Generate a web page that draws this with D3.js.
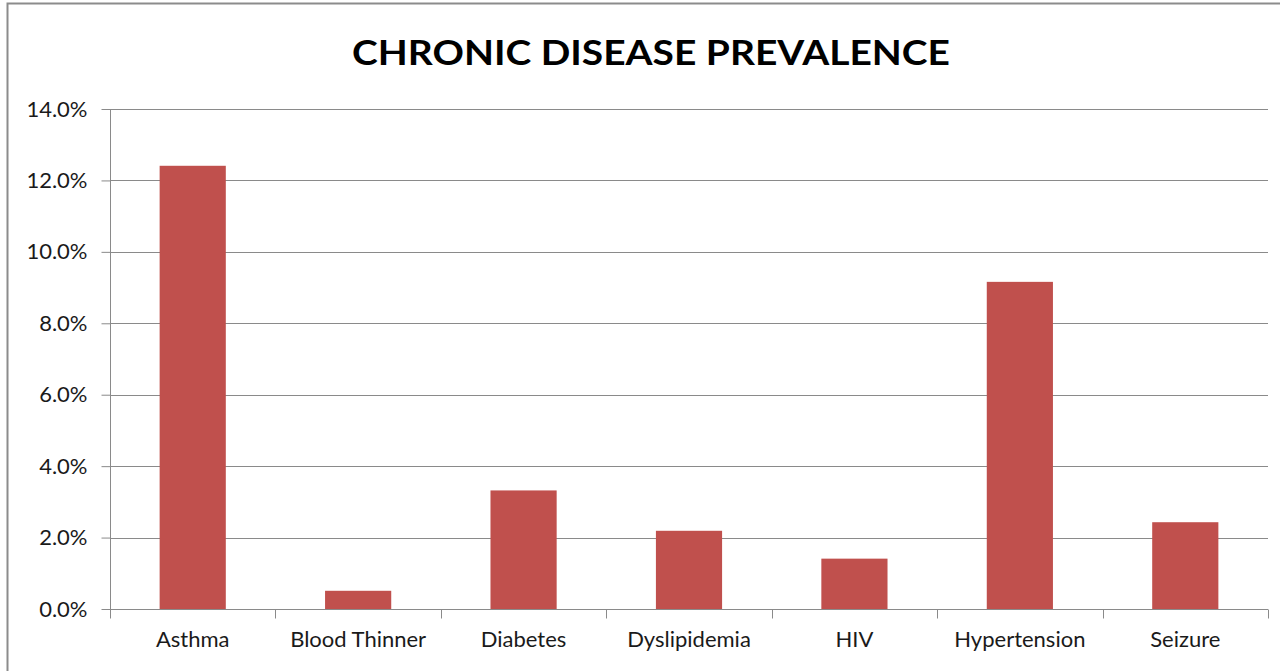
<!DOCTYPE html>
<html>
<head>
<meta charset="utf-8">
<script src="https://cdn.jsdelivr.net/npm/d3@7"></script>
<style>
  html, body { margin: 0; padding: 0; background: #fff; }
  svg { display: block; }
</style>
</head>
<body>
<svg id="chart" width="1280" height="671"></svg>
<script>
const categories = ["Asthma", "Blood Thinner", "Diabetes", "Dyslipidemia", "HIV", "Hypertension", "Seizure"];
const values = [0.1241, 0.0051, 0.0332, 0.0219, 0.0141, 0.0916, 0.0243];
const yTicks = [0, 0.02, 0.04, 0.06, 0.08, 0.10, 0.12, 0.14];
const title = "CHRONIC DISEASE PREVALENCE";

(function () {
const svg = d3.select("#chart");
const pLeft = 110, pRight = 1268, pTop = 109, pBottom = 609;
const font = "Lato, 'Open Sans', sans-serif";

// outer frame
svg.append("rect")
  .attr("x", 7.5).attr("y", 3.5)
  .attr("width", 1290).attr("height", 700)
  .attr("fill", "#fff").attr("stroke", "#8c8c8c").attr("stroke-width", 2);

const x = d3.scaleBand().domain(categories).range([pLeft, pRight]).padding(0);
const y = d3.scaleLinear().domain([0, 0.14]).range([pBottom, pTop]);

// gridlines
svg.append("g").selectAll("line").data(yTicks.filter(d => d > 0)).join("line")
  .attr("x1", pLeft).attr("x2", pRight)
  .attr("y1", d => Math.round(y(d)) + 0.5).attr("y2", d => Math.round(y(d)) + 0.5)
  .attr("stroke", "#8a8a8a").attr("stroke-width", 1);

// y axis
const yAxis = svg.append("g")
  .attr("transform", `translate(${pLeft + 0.5},0)`)
  .call(d3.axisLeft(y).tickValues(yTicks).tickFormat(d3.format(".1%")).tickSize(9).tickPadding(14));
yAxis.select(".domain").attr("stroke", "#8a8a8a").attr("d", `M0,${pTop}V${pBottom}`);
yAxis.selectAll(".tick line").attr("stroke", "#8a8a8a");
yAxis.selectAll(".tick text")
  .attr("font-family", font).attr("font-size", 22).attr("fill", "#1a1a1a");

// bars
const barW = x.bandwidth() * 0.4;
svg.append("g").selectAll("rect").data(categories).join("rect")
  .attr("x", (d) => x(d) + (x.bandwidth() - barW) / 2)
  .attr("width", barW)
  .attr("y", (d, i) => y(values[i]))
  .attr("height", (d, i) => pBottom - y(values[i]))
  .attr("fill", "#C0504D");

// x axis
const xAxis = svg.append("g")
  .attr("transform", `translate(0,${pBottom + 0.5})`)
  .call(d3.axisBottom(x).tickSize(0).tickPadding(22));
xAxis.select(".domain").attr("stroke", "#8a8a8a").attr("d", `M${pLeft},0H${pRight}`);
xAxis.selectAll(".tick text")
  .attr("font-family", font).attr("font-size", 22).attr("fill", "#1a1a1a");
const edges = categories.map(c => x(c)).concat([pRight]);
xAxis.append("g").selectAll("line").data(edges).join("line")
  .attr("x1", d => Math.round(d) + 0.5).attr("x2", d => Math.round(d) + 0.5)
  .attr("y1", 0).attr("y2", 9)
  .attr("stroke", "#8a8a8a");

// title
svg.append("text")
  .attr("x", 651).attr("y", 65)
  .attr("text-anchor", "middle")
  .attr("font-family", font).attr("font-weight", "bold").attr("font-size", 35)
  .attr("fill", "#000")
  .attr("textLength", 598).attr("lengthAdjust", "spacingAndGlyphs")
  .text(title);
})();
</script>
</body>
</html>
